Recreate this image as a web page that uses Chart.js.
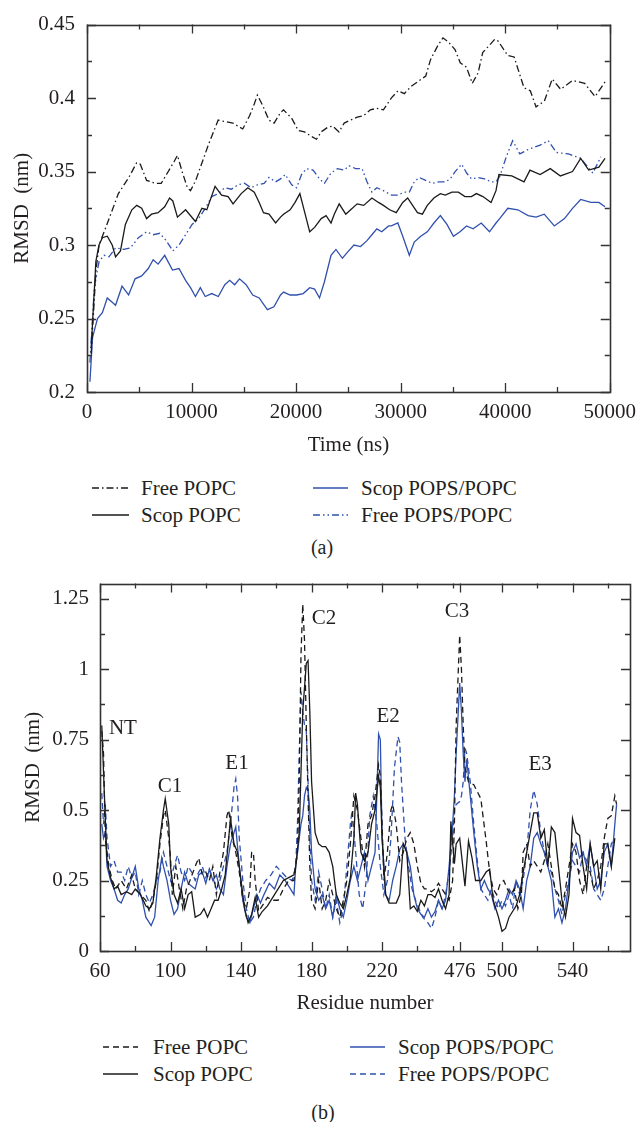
<!DOCTYPE html>
<html><head><meta charset="utf-8">
<script src="https://cdn.jsdelivr.net/npm/chart.js@4.4.1/dist/chart.umd.min.js"></script>
<style>
html,body{margin:0;padding:0;background:#fff;}
body{width:644px;height:1122px;position:relative;overflow:hidden;font-family:"Liberation Serif","Tinos","Times New Roman","DejaVu Serif",serif;color:#231f20;}
canvas{position:absolute;left:0;}
#cA{top:0;} #cB{top:560px;}
.leg{position:absolute;font-size:21px;line-height:24px;height:24px;white-space:nowrap;display:flex;align-items:center;}
.leg svg{display:block;}
.cap{position:absolute;font-size:20px;transform:translate(-50%,-50%);white-space:nowrap;}
</style></head>
<body>
<canvas id="cA" width="644" height="461"></canvas>
<canvas id="cB" width="644" height="459"></canvas>
<div class="cap" style="left:322px;top:547px;">(a)</div>
<div class="cap" style="left:323px;top:1112px;">(b)</div>
<script>
// ---------- Panel (a): RMSD vs time, [time (ns), RMSD (nm)] ----------
const freePopcA = [[400,0.226],[850,0.282],[1150,0.300],[1800,0.312],[3000,0.335],[4000,0.346],[4750,0.356],[5100,0.355],[5700,0.344],[6500,0.342],
[7100,0.342],[7600,0.348],[8350,0.357],[8650,0.361],[9100,0.350],[9600,0.339],[9900,0.337],[10400,0.344],[11000,0.356],[11600,0.368],
[12100,0.377],[12550,0.385],[13200,0.384],[13950,0.383],[14900,0.379],[15550,0.388],[16000,0.396],[16300,0.402],[16800,0.395],[17400,0.385],
[17900,0.383],[18500,0.390],[18800,0.392],[19600,0.386],[20200,0.378],[20800,0.377],[21450,0.374],[21950,0.372],[22400,0.377],[23000,0.380],
[23500,0.381],[24100,0.377],[24600,0.383],[25200,0.385],[25850,0.387],[26450,0.388],[27100,0.392],[27700,0.393],[28350,0.392],[29100,0.400],
[29750,0.405],[30350,0.403],[31000,0.408],[31600,0.411],[32400,0.415],[32850,0.426],[33500,0.435],[34050,0.441],[34600,0.438],[35200,0.433],
[35700,0.424],[36300,0.421],[36850,0.410],[37400,0.417],[37850,0.431],[38500,0.436],[39000,0.440],[39300,0.439],[40250,0.429],[40850,0.428],
[41800,0.407],[42400,0.405],[42950,0.394],[43750,0.398],[44500,0.413],[45300,0.406],[46450,0.412],[47600,0.410],[48600,0.401],[49550,0.411]];

const scopPopcA = [[400,0.230],[850,0.289],[1150,0.300],[1470,0.305],[1940,0.306],[2410,0.300],[2730,0.292],[3200,0.296],[3670,0.314],[4290,0.324],
[4760,0.327],[5230,0.325],[5700,0.318],[6170,0.321],[6800,0.322],[7430,0.326],[7900,0.332],[8210,0.330],[8650,0.319],[9430,0.324],
[10370,0.316],[10990,0.325],[11460,0.324],[12250,0.340],[12870,0.334],[13500,0.333],[13970,0.328],[14750,0.335],[15380,0.339],[16000,0.336],
[16470,0.329],[16880,0.322],[17410,0.321],[18040,0.315],[18510,0.319],[18800,0.321],[19430,0.324],[19900,0.329],[20360,0.335],[20830,0.322],
[21300,0.309],[21770,0.312],[22400,0.318],[22870,0.320],[23340,0.315],[23650,0.321],[24120,0.328],[24750,0.321],[25220,0.324],[25840,0.328],
[26470,0.327],[27250,0.332],[27880,0.329],[28350,0.327],[28950,0.324],[29580,0.322],[30200,0.329],[30670,0.332],[31140,0.327],[31610,0.322],
[32080,0.321],[32550,0.327],[33180,0.332],[33800,0.335],[34270,0.334],[34900,0.336],[35520,0.336],[36150,0.333],[36770,0.333],[37240,0.335],
[37870,0.333],[38650,0.329],[39120,0.337],[39400,0.348],[40630,0.347],[41800,0.343],[42370,0.351],[43340,0.348],[44310,0.352],[45280,0.347],
[46440,0.350],[47220,0.359],[47990,0.351],[48960,0.353],[49550,0.359]];

const scopPopsA = [[280,0.207],[530,0.237],[1000,0.250],[1470,0.254],[1940,0.264],[2410,0.261],[2730,0.259],[3350,0.272],[3980,0.266],[4600,0.277],
[5230,0.279],[5860,0.284],[6330,0.290],[6800,0.287],[7430,0.293],[8180,0.283],[8800,0.284],[9430,0.276],[9900,0.271],[10370,0.265],
[10840,0.271],[11310,0.265],[11930,0.267],[12560,0.265],[13180,0.273],[13650,0.276],[14120,0.273],[14590,0.277],[15220,0.273],[15850,0.266],
[16470,0.264],[17250,0.256],[17880,0.258],[18510,0.266],[18800,0.268],[19430,0.266],[20050,0.266],[20680,0.267],[21300,0.271],[21770,0.270],
[22240,0.264],[22710,0.275],[23340,0.293],[23810,0.297],[24430,0.291],[24900,0.295],[25530,0.300],[26160,0.299],[26780,0.303],[27250,0.307],
[27720,0.311],[28190,0.309],[28850,0.313],[29110,0.313],[29730,0.315],[30200,0.306],[30830,0.293],[31300,0.302],[31920,0.306],[32550,0.309],
[33180,0.315],[33800,0.320],[34430,0.314],[35050,0.306],[35680,0.309],[36300,0.313],[36930,0.311],[37710,0.315],[38500,0.309],[39120,0.315],
[39470,0.318],[40250,0.325],[41210,0.324],[42190,0.320],[42960,0.319],[43730,0.321],[44700,0.313],[45670,0.318],[46440,0.325],[47220,0.331],
[48190,0.329],[48960,0.329],[49550,0.326]];

const freePopsA = [[280,0.220],[700,0.271],[1160,0.289],[1630,0.293],[2100,0.292],[2730,0.298],[3510,0.297],[4140,0.298],[4920,0.305],[5700,0.309],
[6330,0.307],[6960,0.308],[7580,0.303],[8210,0.296],[8800,0.300],[9430,0.307],[10050,0.314],[10680,0.318],[11310,0.325],[11930,0.333],
[12560,0.335],[13180,0.339],[13810,0.338],[14440,0.341],[15060,0.342],[15690,0.339],[16310,0.341],[16940,0.342],[17410,0.346],[18040,0.343],
[18510,0.345],[18960,0.348],[19580,0.341],[20050,0.339],[20520,0.348],[20990,0.352],[21620,0.351],[22240,0.345],[22710,0.342],[23340,0.349],
[23960,0.352],[24590,0.351],[25060,0.354],[25690,0.352],[26310,0.352],[26780,0.343],[27250,0.336],[27720,0.339],[28350,0.337],[29110,0.334],
[29730,0.334],[30360,0.336],[30830,0.336],[31300,0.343],[31770,0.346],[32390,0.344],[33020,0.342],[33650,0.343],[34270,0.343],[34740,0.345],
[35210,0.350],[35840,0.355],[36310,0.349],[36780,0.345],[37400,0.346],[38030,0.345],[38650,0.343],[39120,0.343],[39500,0.347],[40100,0.360],
[40710,0.371],[41400,0.362],[42190,0.365],[43340,0.368],[44120,0.371],[44890,0.363],[46050,0.362],[47220,0.359],[48380,0.349],[49150,0.360]];

const timeTicks = [0,10000,20000,30000,40000,50000];
const timeTickLabels = ['0','10000','20000','30000','40000','50000'];
const timeMinor = [5000,15000,25000,35000,45000];
const rmsdTicksA = [0.2,0.25,0.3,0.35,0.4,0.45];
const rmsdTickLabelsA = ['0.2','0.25','0.3','0.35','0.4','0.45'];
const rmsdMinorA = [0.225,0.275,0.325,0.375,0.425];

// ---------- Panel (b): RMSD per residue, [residue, RMSD (nm)] ----------
const freePopcB = [[61,.78],[62,.70],[63,.40],[65,.30],[67,.25],[69,.22],[72,.25],[75,.22],[78,.27],[80,.22],
[83,.20],[86,.18],[88,.14],[90,.18],[92,.25],[94,.38],[96,.48],[97,.50],[99,.40],[100,.33],
[101,.20],[103,.30],[105,.22],[107,.15],[109,.22],[111,.25],[114,.30],[116,.33],[118,.27],[120,.28],
[122,.25],[124,.30],[126,.20],[128,.28],[130,.35],[132,.48],[133,.50],[135,.40],[137,.35],[139,.28],
[141,.18],[143,.15],[145,.22],[146,.35],[147,.35],[148,.25],[150,.14],[152,.16],[155,.19],[158,.18],
[161,.18],[164,.22],[167,.25],[170,.25],[172,.35],[173,.60],[174,1.05],[175,1.23],[176,1.10],[177,.80],
[178,.55],[179,.30],[180,.18],[182,.15],[184,.25],[186,.15],[188,.18],[190,.25],[192,.20],[194,.15],
[196,.12],[198,.18],[200,.25],[202,.38],[204,.55],[206,.50],[208,.40],[210,.30],[212,.45],[214,.48],
[216,.55],[218,.66],[219,.62],[220,.45],[221,.25],[223,.35],[225,.50],[226,.52],[228,.45],[230,.32],
[232,.35],[234,.40],[236,.42],[238,.38],[240,.30],[242,.24],[244,.22],[246,.22],[248,.21],[250,.22],
[252,.24],[254,.22],[256,.20],[258,.18],[260,.25],[261,.45],[262,.80],[476,1.12],[477,1.00],[478,.80],
[479,.65],[481,.60],[484,.59],[488,.54],[491,.39],[493,.28],[495,.22],[497,.20],[499,.24],[501,.25],
[503,.22],[505,.20],[507,.22],[509,.15],[511,.20],[512,.35],[514,.38],[516,.30],[518,.32],[520,.30],
[522,.28],[524,.32],[526,.38],[528,.30],[530,.22],[532,.20],[534,.15],[536,.22],[538,.30],[540,.38],
[542,.35],[544,.25],[546,.20],[548,.30],[550,.28],[552,.22],[554,.25],[556,.30],[558,.40],[560,.47],
[562,.48],[564,.55],[565,.52]];

const scopPopcB = [[61,.80],[63,.47],[64,.32],[66,.26],[68,.22],[70,.23],[72,.20],[75,.21],[78,.20],[80,.22],
[83,.20],[86,.16],[88,.15],[90,.17],[92,.27],[94,.40],[96,.50],[97,.54],[99,.45],[100,.30],
[102,.20],[104,.17],[106,.22],[108,.15],[110,.20],[112,.21],[114,.12],[117,.13],[119,.15],[121,.12],
[123,.15],[125,.18],[127,.18],[129,.22],[131,.27],[133,.40],[134,.47],[136,.38],[138,.35],[140,.25],
[142,.15],[144,.10],[146,.13],[148,.19],[150,.12],[152,.14],[155,.16],[158,.19],[161,.22],[164,.25],
[167,.26],[170,.27],[171,.30],[173,.42],[175,.85],[177,1.02],[178,1.03],[179,.85],[180,.60],[182,.42],
[184,.38],[186,.37],[188,.37],[190,.35],[192,.30],[194,.20],[196,.17],[198,.15],[200,.20],[202,.26],
[204,.40],[205,.56],[206,.52],[208,.35],[210,.32],[212,.35],[214,.45],[216,.50],[218,.62],[219,.58],
[220,.40],[222,.20],[224,.17],[226,.17],[228,.17],[230,.20],[232,.38],[234,.35],[236,.15],[238,.16],
[240,.14],[242,.18],[244,.16],[246,.20],[248,.20],[250,.19],[252,.22],[254,.18],[256,.15],[258,.20],
[259,.46],[261,.31],[262,.38],[476,.40],[479,.23],[481,.39],[483,.33],[485,.25],[488,.25],[491,.28],
[493,.29],[495,.18],[498,.12],[500,.07],[502,.08],[504,.12],[506,.14],[508,.16],[510,.20],[512,.28],
[514,.35],[516,.42],[518,.49],[520,.49],[522,.40],[524,.43],[526,.30],[528,.44],[530,.42],[532,.30],
[534,.18],[536,.12],[538,.20],[540,.47],[542,.42],[544,.41],[546,.30],[548,.22],[550,.38],[552,.30],
[554,.32],[556,.22],[558,.38],[560,.38],[562,.30],[564,.40]];

const scopPopsB = [[61,.45],[62,.40],[63,.42],[64,.30],[66,.25],[68,.22],[70,.18],[72,.17],[74,.20],[76,.22],
[78,.26],[80,.30],[82,.22],[84,.18],[86,.12],[89,.09],[91,.12],[93,.25],[95,.33],[96,.30],
[98,.25],[100,.18],[102,.13],[104,.15],[106,.22],[108,.28],[110,.24],[112,.23],[114,.22],[116,.27],
[118,.28],[120,.24],[122,.29],[124,.25],[126,.27],[128,.22],[130,.20],[132,.30],[134,.38],[137,.44],
[139,.30],[141,.18],[143,.12],[145,.10],[147,.15],[149,.20],[151,.17],[153,.20],[156,.24],[159,.22],
[162,.27],[165,.25],[168,.22],[170,.20],[171,.30],[172,.35],[173,.40],[174,.45],[175,.48],[176,.55],
[177,.58],[178,.57],[179,.50],[180,.35],[182,.22],[184,.18],[186,.20],[188,.15],[190,.18],[192,.12],
[194,.20],[196,.15],[198,.12],[200,.18],[202,.25],[204,.30],[206,.25],[208,.30],[210,.35],[212,.25],
[214,.30],[216,.35],[217,.55],[218,.77],[219,.75],[220,.40],[222,.20],[224,.18],[226,.25],[228,.30],
[230,.36],[232,.38],[234,.35],[236,.30],[238,.20],[240,.15],[242,.13],[244,.12],[246,.15],[248,.12],
[250,.14],[252,.18],[254,.15],[256,.18],[258,.30],[260,.45],[261,.55],[262,.70],[476,.95],[477,.85],
[478,.70],[479,.60],[480,.68],[482,.55],[484,.42],[486,.30],[488,.22],[490,.25],[492,.22],[494,.20],
[496,.15],[498,.18],[500,.15],[502,.18],[504,.22],[506,.20],[508,.25],[510,.22],[512,.15],[514,.25],
[516,.30],[518,.40],[520,.42],[522,.38],[524,.35],[526,.30],[528,.25],[530,.12],[532,.15],[534,.10],
[536,.15],[538,.25],[540,.35],[542,.38],[544,.33],[546,.35],[548,.30],[550,.38],[552,.30],[554,.22],
[556,.25],[558,.35],[560,.38],[562,.30],[564,.45],[565,.52]];

const freePopsB = [[61,.56],[62,.45],[63,.52],[64,.40],[66,.30],[68,.32],[70,.28],[72,.28],[74,.25],[76,.30],
[78,.26],[80,.28],[82,.20],[84,.25],[86,.20],[88,.17],[90,.20],[92,.25],[94,.28],[96,.35],
[98,.30],[100,.25],[102,.30],[104,.34],[106,.28],[108,.25],[110,.30],[112,.28],[114,.25],[116,.28],
[118,.30],[120,.26],[122,.29],[124,.26],[126,.22],[128,.25],[130,.30],[132,.35],[134,.45],[136,.58],
[137,.61],[138,.55],[139,.40],[141,.25],[143,.15],[145,.10],[147,.12],[149,.18],[151,.22],[154,.25],
[157,.27],[160,.30],[163,.28],[166,.26],[169,.25],[171,.30],[172,.45],[173,.70],[174,.92],[175,.85],
[176,.80],[177,.78],[178,.60],[179,.40],[180,.25],[182,.18],[184,.28],[186,.22],[188,.15],[190,.20],
[192,.12],[194,.18],[196,.10],[198,.15],[200,.30],[202,.45],[203,.50],[205,.35],[207,.20],[209,.15],
[211,.25],[213,.48],[215,.55],[217,.45],[219,.30],[221,.20],[223,.25],[225,.40],[227,.65],[229,.76],
[230,.74],[231,.60],[233,.40],[235,.30],[237,.22],[239,.18],[241,.15],[243,.12],[246,.10],[248,.08],
[250,.12],[252,.18],[254,.15],[256,.20],[258,.28],[260,.40],[261,.50],[262,.52],[476,.53],[477,.55],
[478,.60],[479,.72],[480,.70],[482,.60],[484,.45],[486,.32],[488,.22],[490,.20],[492,.18],[494,.22],
[496,.18],[498,.15],[500,.18],[502,.16],[504,.20],[506,.15],[508,.25],[510,.20],[512,.25],[514,.35],
[516,.50],[518,.57],[520,.52],[522,.42],[524,.35],[526,.30],[528,.28],[530,.22],[532,.18],[534,.13],
[536,.20],[538,.25],[540,.32],[542,.30],[544,.28],[546,.35],[548,.32],[550,.30],[552,.22],[554,.20],
[556,.18],[558,.22],[560,.30],[562,.38],[564,.40]];

const residueTicks = [60,100,140,180,220,476,500,540];
const residueTickLabels = ['60','100','140','180','220','476','500','540'];
const residueMinor = [80,120,160,200,240,260,520,560];
const rmsdTicksB = [0,0.25,0.5,0.75,1,1.25];
const rmsdTickLabelsB = ['0','0.25','0.5','0.75','1','1.25'];
const rmsdMinorB = [0.125,0.375,0.625,0.875,1.125];
const regionLabels = ['NT','C1','E1','C2','E2','C3','E3'];
const regionResidue = [73,99.7,137.7,187,223.4,262.5,521.6];
const regionRmsd = [0.79,0.585,0.665,1.178,0.83,1.204,0.66];

// ---------- rendering ----------
const FONT = '"Liberation Serif", Tinos, "Times New Roman", "DejaVu Serif", serif';
const FS = 21;
const TXT = '#231f20';
const BLACK = '#1a1a1a';
const BLUE = '#3050ad';
const BREAK_LO = 262, BREAK_GAP = 212;           // residues 263..475 are cut out of axis (b)
const toPos = r => (r <= BREAK_LO + 1 ? r : r - BREAK_GAP);

const frameTicks = {
  id: 'frameTicks',
  afterDatasetsDraw(chart, args, o) {
    const {ctx, chartArea: a, scales: {x, y}} = chart;
    ctx.save();
    ctx.strokeStyle = '#333';
    ctx.lineWidth = 1.3;
    const tk = (vals, len, horiz) => vals.forEach(v => {
      if (horiz) {
        const px = Math.round(x.getPixelForValue(v)) + 0.5;
        ctx.beginPath(); ctx.moveTo(px, a.bottom); ctx.lineTo(px, a.bottom - len);
        ctx.moveTo(px, a.top); ctx.lineTo(px, a.top + len); ctx.stroke();
      } else {
        const py = Math.round(y.getPixelForValue(v)) + 0.5;
        ctx.beginPath(); ctx.moveTo(a.left, py); ctx.lineTo(a.left + len, py);
        ctx.moveTo(a.right, py); ctx.lineTo(a.right - len, py); ctx.stroke();
      }
    });
    tk(o.xMajor, 9, true); tk(o.xMinor, 5, true);
    tk(o.yMajor, 9, false); tk(o.yMinor, 5, false);
    ctx.lineWidth = 1.6;
    ctx.strokeRect(Math.round(a.left)+0.5, Math.round(a.top)+0.5, Math.round(a.right-a.left), Math.round(a.bottom-a.top));
    ctx.restore();
  }
};

const annotate = {
  id: 'annotate',
  afterDatasetsDraw(chart, args, o) {
    if (!o || !o.labels) return;
    const {ctx, scales: {x, y}} = chart;
    ctx.save();
    ctx.font = FS + 'px ' + FONT;
    ctx.fillStyle = TXT;
    ctx.textAlign = 'center';
    ctx.textBaseline = 'middle';
    o.labels.forEach((t, i) => ctx.fillText(t, x.getPixelForValue(toPos(o.xs[i])), y.getPixelForValue(o.ys[i])));
    ctx.restore();
  }
};

function ds(label, pts, color, dash, mapX) {
  return {
    label, borderColor: color, backgroundColor: color, borderWidth: 1.3, borderDash: dash,
    pointRadius: 0, fill: false, tension: 0,
    data: pts.map(p => ({x: mapX ? mapX(p[0]) : p[0], y: p[1]}))
  };
}

const tickFont = {family: FONT, size: FS};
function makeChart(id, datasets, cfg) {
  return new Chart(document.getElementById(id), {
    type: 'line',
    data: {datasets},
    options: {
      responsive: false, animation: false, devicePixelRatio: 1,
      layout: {padding: cfg.padding},
      plugins: {
        legend: {display: false}, tooltip: {enabled: false},
        frameTicks: {xMajor: cfg.xTicks, xMinor: cfg.xMinor, yMajor: cfg.yTicks, yMinor: cfg.yMinor},
        annotate: cfg.annot || {}
      },
      scales: {
        x: {
          type: 'linear', min: cfg.xMin, max: cfg.xMax,
          grid: {display: false, drawTicks: false}, border: {display: false},
          afterBuildTicks: s => { s.ticks = cfg.xTicks.map(v => ({value: v})); },
          ticks: {autoSkip: false, maxRotation: 0, minRotation: 0, padding: 8, color: TXT, font: tickFont,
                  callback: (v, i) => cfg.xLabels[i]},
          title: {display: true, text: cfg.xTitle, color: TXT, font: tickFont, padding: 0},
          afterFit: s => { s.height = cfg.xH; }
        },
        y: {
          type: 'linear', min: cfg.yMin, max: cfg.yMax,
          grid: {display: false, drawTicks: false}, border: {display: false},
          afterBuildTicks: s => { s.ticks = cfg.yTicks.map(v => ({value: v})); },
          ticks: {autoSkip: false, padding: cfg.yPad, color: TXT, font: tickFont,
                  callback: (v, i) => cfg.yLabels[i]},
          title: {display: true, text: 'RMSD  (nm)', color: TXT, font: tickFont, padding: 0},
          afterFit: s => { s.width = cfg.yW; }
        }
      }
    },
    plugins: [frameTicks, annotate]
  });
}

const dashDot = [7, 3, 1.5, 3];
const dashDotDot = [7, 3, 1.5, 3, 1.5, 3];
const dashed = [6, 4];

makeChart('cA', [
  ds('Free POPC', freePopcA, BLACK, dashDot),
  ds('Scop POPC', scopPopcA, BLACK, []),
  ds('Scop POPS/POPC', scopPopsA, BLUE, []),
  ds('Free POPS/POPC', freePopsA, BLUE, dashDotDot)
], {
  padding: {left: 10, right: 26, top: 22, bottom: 3},
  xMin: 0, xMax: 50000, xTicks: timeTicks, xLabels: timeTickLabels, xMinor: timeMinor, xTitle: 'Time (ns)', xH: 66,
  yMin: 0.2, yMax: 0.45, yTicks: rmsdTicksA, yLabels: rmsdTickLabelsA, yMinor: rmsdMinorA, yW: 77, yPad: 12
});

makeChart('cB', [
  ds('Free POPC', freePopcB, BLACK, dashed, toPos),
  ds('Scop POPC', scopPopcB, BLACK, [], toPos),
  ds('Scop POPS/POPC', scopPopsB, BLUE, [], toPos),
  ds('Free POPS/POPC', freePopsB, BLUE, dashed, toPos)
], {
  padding: {left: 21, right: 14, top: 21, bottom: 3},
  xMin: 60, xMax: toPos(572.6), xTicks: residueTicks.map(toPos), xLabels: residueTickLabels,
  xMinor: residueMinor.map(toPos), xTitle: 'Residue number', xH: 65,
  yMin: 0, yMax: 1.303, yTicks: rmsdTicksB, yLabels: rmsdTickLabelsB, yMinor: rmsdMinorB, yW: 79, yPad: 11,
  annot: {labels: regionLabels, xs: regionResidue, ys: regionRmsd}
});

// ---------- HTML legends ----------
const legendNames = ['Free POPC', 'Scop POPS/POPC', 'Scop POPC', 'Free POPS/POPC'];
function legend(rows, cols, styles) {
  legendNames.forEach((name, i) => {
    const st = styles[i];
    const d = document.createElement('div');
    d.className = 'leg';
    d.style.left = cols[i % 2][0] + 'px';
    d.style.top = (rows[Math.floor(i / 2)] - 12) + 'px';
    const w = cols[i % 2][1];
    d.innerHTML = `<svg width="${w}" height="6"><line x1="0" y1="3" x2="${w}" y2="3" stroke="${st.c}" stroke-width="1.3" stroke-dasharray="${st.d.length ? st.d.join(',') : 'none'}"/></svg><span style="margin-left:${cols[i % 2][2]}px">${name}</span>`;
    document.body.appendChild(d);
  });
}
legend([488, 515], [[92, 37, 12], [313, 35, 13]],
  [{c: BLACK, d: dashDot}, {c: BLUE, d: []}, {c: BLACK, d: []}, {c: BLUE, d: dashDotDot}]);
legend([1047, 1074], [[103, 35, 15], [350, 35, 13]],
  [{c: BLACK, d: dashed}, {c: BLUE, d: []}, {c: BLACK, d: []}, {c: BLUE, d: dashed}]);
</script>
</body></html>
